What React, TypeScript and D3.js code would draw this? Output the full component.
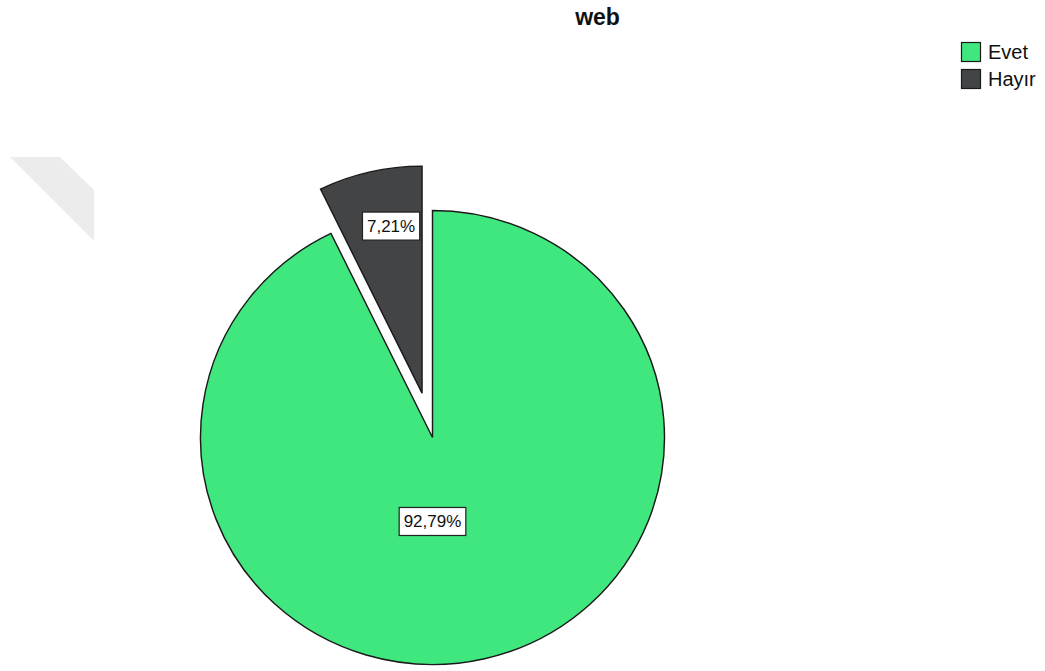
import React from "react";
import * as d3 from "d3";

const title = "web";
const categories = ["Evet", "Hayır"];
const values = [92.79, 7.21];
const labels = ["92,79%", "7,21%"];
const colors = ["#40e77f", "#434446"];
const exploded = [false, true];

const W = 1045;
const H = 671;
const cx = 432.5;
const cy = 437.5;
const R = 227;
const sx = 1.022;
const explodeDist = 45.5;

export default function App() {
  const pie = d3.pie<number>().sort(null).value((d) => d)(values);
  const arc = d3.arc<d3.PieArcDatum<number>>().innerRadius(0).outerRadius(R);

  const items = pie.map((p, i) => {
    const mid = (p.startAngle + p.endAngle) / 2;
    const [ox, oy] = exploded[i] ? d3.pointRadial(mid, explodeDist) : [0, 0];
    const lblAngle = exploded[i] ? mid + 0.047 : Math.PI;
    const lblR = exploded[i] ? 0.748 * R : 0.37 * R;
    const [lx, ly] = d3.pointRadial(lblAngle, lblR);
    return { p, i, ox, oy, lx: cx + (ox + lx) * sx, ly: cy + oy + ly };
  });

  const labelFont = 17;
  const charW = (s: string) => {
    let w = 0;
    for (const c of s) w += c === "," ? 0.278 : c === "%" ? 0.889 : 0.556;
    return w * labelFont;
  };

  return (
    <svg width={W} height={H} style={{ display: "block", margin: 0, position: "absolute", left: 0, top: 0 }}
      fontFamily="Arial, 'Liberation Sans', sans-serif">
      <rect x={0} y={0} width={W} height={H} fill="#ffffff" />
      <polygon points="10,157 60,157 94,190 94,241" fill="#ececec" />
      <text x={597.5} y={25} textAnchor="middle" fontWeight="bold" fontSize={23} fill="#111">
        {title}
      </text>
      <g transform={`translate(${cx},${cy}) scale(${sx},1)`}>
        {items.map(({ p, i, ox, oy }) => (
          <path
            key={i}
            d={arc(p) || ""}
            transform={`translate(${ox},${oy})`}
            fill={colors[i]}
            stroke="#1a1a1a"
            strokeWidth={1.4}
            strokeLinejoin="miter"
          />
        ))}
      </g>
      {items.map(({ i, lx, ly }) => {
        const tw = charW(labels[i]);
        const bw = tw + 9;
        const bh = 28;
        return (
          <g key={i}>
            <rect x={lx - bw / 2} y={ly - bh / 2} width={bw} height={bh} fill="#ffffff" stroke="#222" strokeWidth={1.2} />
            <text x={lx} y={ly + 6} textAnchor="middle" fontSize={labelFont} fill="#111">
              {labels[i]}
            </text>
          </g>
        );
      })}
      {categories.map((c, i) => (
        <g key={c} transform={`translate(961,${42 + i * 27})`}>
          <rect x={0.5} y={0.5} width={19} height={19} fill={colors[i]} stroke="#1a1a1a" strokeWidth={1.2} />
          <text x={27} y={17} fontSize={20} fill="#111">
            {c}
          </text>
        </g>
      ))}
    </svg>
  );
}
